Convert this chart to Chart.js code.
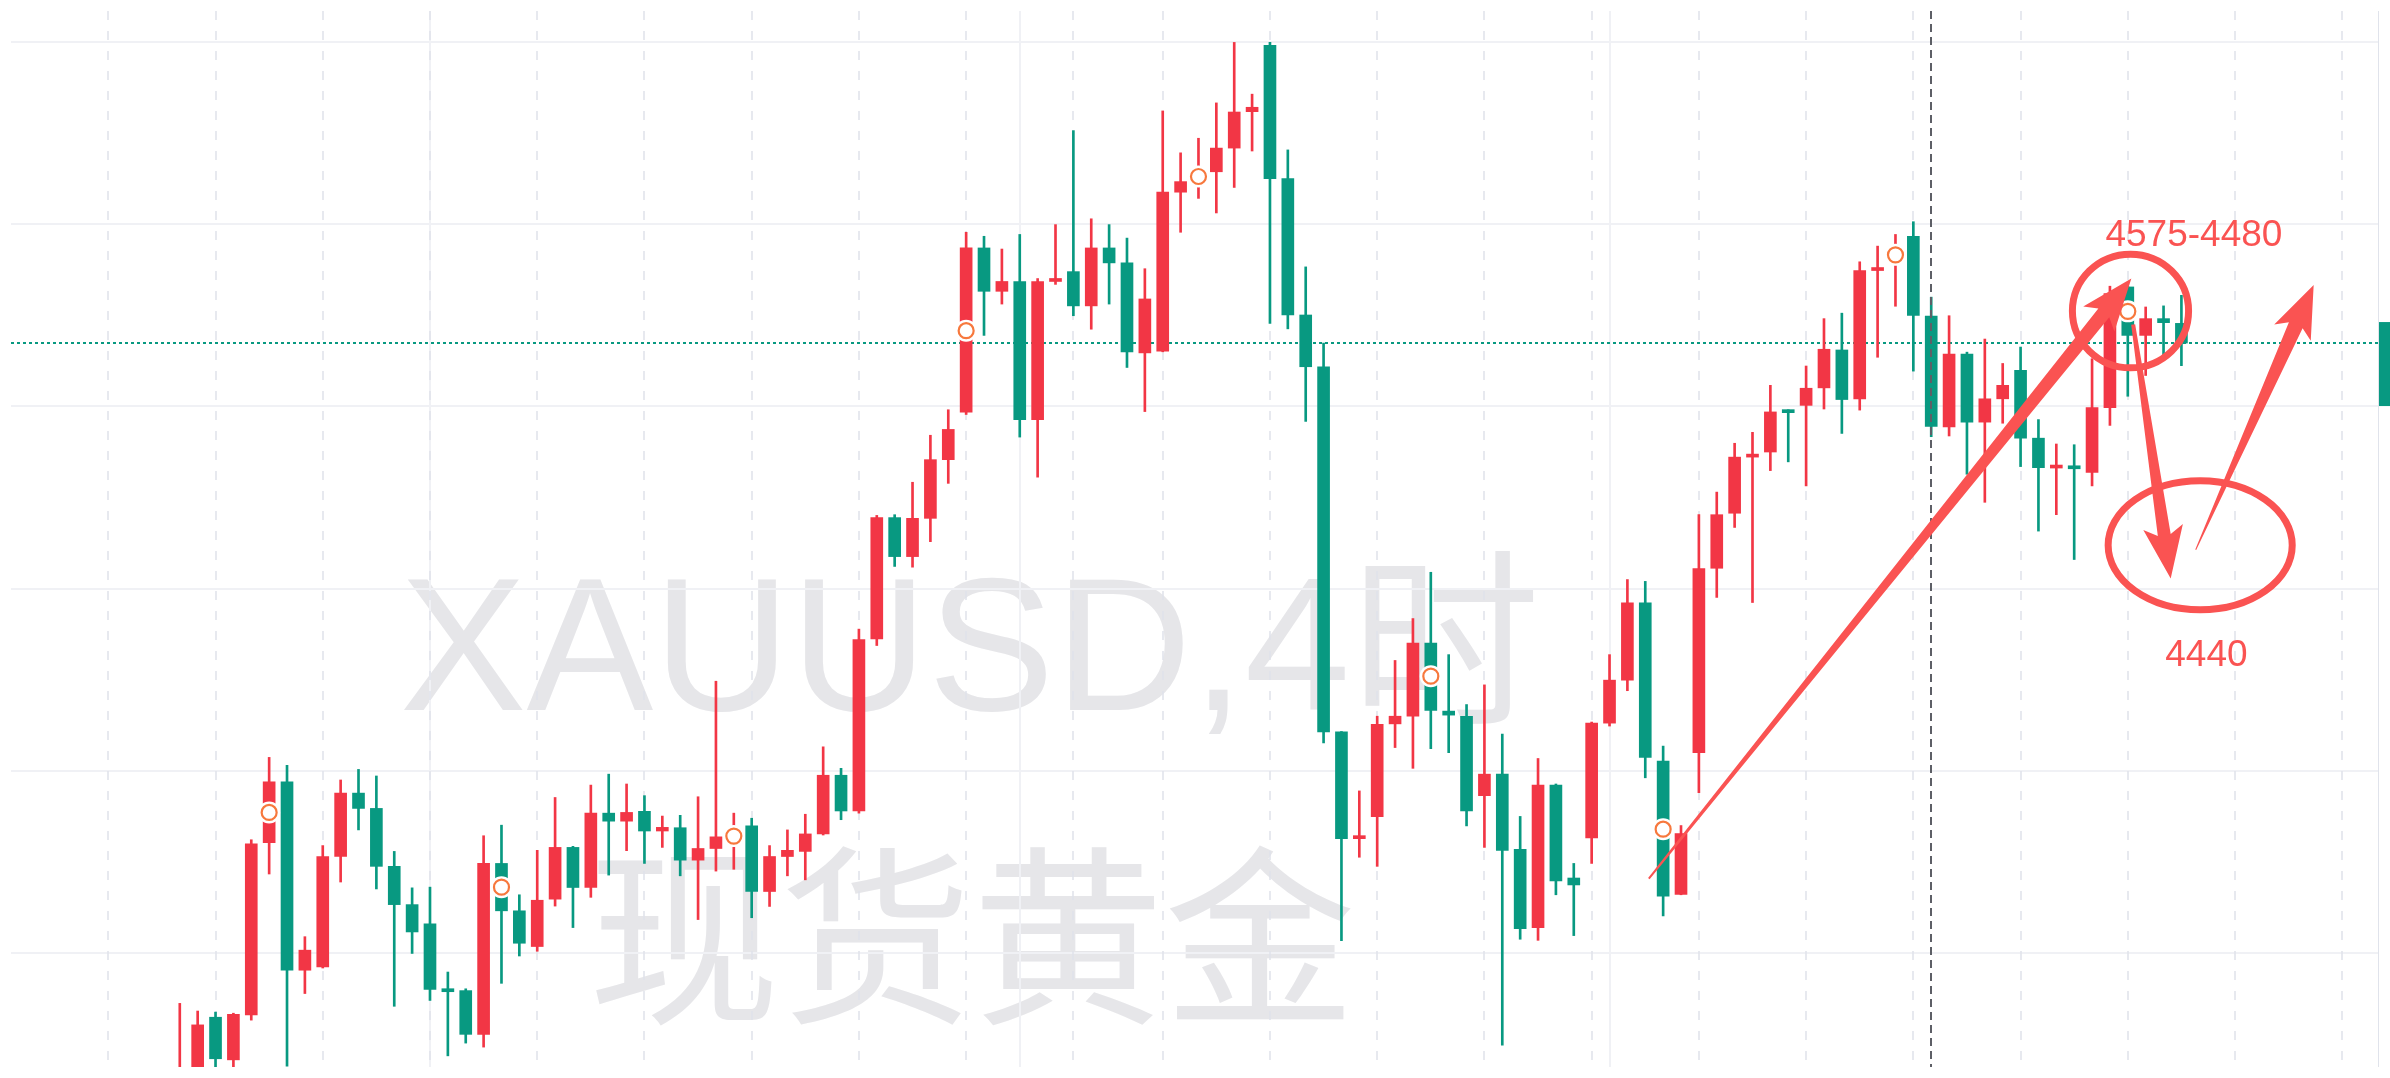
<!DOCTYPE html>
<html>
<head>
<meta charset="utf-8">
<title>XAUUSD 4时</title>
<script src="https://cdn.jsdelivr.net/npm/chart.js"></script>
<style>
    html, body { margin: 0; padding: 0; background: #fff; overflow: hidden; }
    #chart { display: block; }
</style>
</head>
<body>
<canvas id="chart" width="2390" height="1078" style="width:2390px;height:1078px"></canvas>
<script>
// XAUUSD 4h candles (price in USD)
const candleOpen = [
    4262, 4265, 4282.4, 4270.7, 4283.0, 4330.3, 4347.0, 4295.3, 4296.2, 4326.5,
    4343.9, 4339.7, 4323.8, 4313.3, 4308.0, 4290.0, 4289.7, 4277.7, 4324.6, 4311.6,
    4301.8, 4314.8, 4329.0, 4318.0, 4338.4, 4336.2, 4338.9, 4333.5, 4334.4, 4325.5,
    4328.7, 4330.8, 4334.9, 4316.9, 4326.5, 4327.9, 4332.7, 4348.8, 4339.0, 4386.2,
    4419.5, 4408.8, 4419.3, 4435.4, 4448.4, 4493.5, 4481.6, 4484.3, 4446.4, 4484.3,
    4487.0, 4477.6, 4493.5, 4489.4, 4464.7, 4465.2, 4508.8, 4511.5, 4514.4, 4520.9,
    4530.9, 4549.1, 4512.5, 4475.1, 4460.9, 4360.7, 4331.4, 4337.4, 4362.9, 4365.0,
    4385.1, 4366.4, 4365.0, 4343.2, 4349.1, 4328.5, 4307.0, 4346.1, 4320.6, 4331.6,
    4363.1, 4374.9, 4396.1, 4352.7, 4316.1, 4355.0, 4405.6, 4420.7, 4436.1, 4437.5,
    4448.7, 4450.3, 4455.1, 4465.5, 4452.1, 4487.3, 4490.3, 4496.7, 4474.8, 4444.4,
    4464.4, 4445.7, 4452.1, 4459.9, 4441.3, 4433.1, 4433.1, 4431.9, 4449.7, 4482.8,
    4469.5, 4474.1, 4472.8
];
const candleHigh = [
    4286.2, 4284.1, 4283.8, 4283.5, 4331.1, 4353.7, 4351.5, 4304.5, 4329.5, 4347.5,
    4350.4, 4348.6, 4327.9, 4317.9, 4318.1, 4294.8, 4290.2, 4332.2, 4335.1, 4316.0,
    4328.2, 4342.7, 4329.3, 4346.1, 4349.1, 4346.4, 4343.2, 4337.6, 4337.8, 4342.9,
    4374.6, 4338.4, 4337.0, 4329.5, 4333.8, 4338.1, 4356.6, 4350.7, 4388.9, 4420.1,
    4420.3, 4429.2, 4442.1, 4449.1, 4497.8, 4496.7, 4493.2, 4497.2, 4485.1, 4499.9,
    4525.7, 4501.5, 4499.9, 4496.2, 4487.8, 4531.1, 4519.6, 4523.6, 4533.3, 4549.9,
    4535.7, 4549.9, 4520.4, 4488.3, 4467.4, 4360.8, 4344.5, 4365.0, 4380.3, 4391.8,
    4404.5, 4381.9, 4368.2, 4373.6, 4360.1, 4337.5, 4353.4, 4346.4, 4324.6, 4363.4,
    4381.9, 4402.5, 4402.0, 4356.8, 4335.0, 4420.3, 4426.5, 4439.9, 4442.9, 4455.8,
    4449.1, 4461.1, 4474.1, 4475.6, 4489.7, 4494.0, 4497.2, 4500.7, 4480.0, 4474.9,
    4464.9, 4468.5, 4461.8, 4466.3, 4446.4, 4439.7, 4439.5, 4463.1, 4483.0, 4483.0,
    4477.3, 4477.6, 4480.5
];
const candleLow = [
    4258, 4262, 4266, 4266, 4281.6, 4321.7, 4269.0, 4288.9, 4295.9, 4319.5,
    4333.8, 4317.6, 4285.4, 4299.9, 4287.0, 4271.8, 4275.3, 4274.2, 4291.7, 4299.2,
    4300.5, 4312.9, 4307.0, 4315.3, 4321.4, 4328.1, 4324.6, 4329.0, 4321.2, 4309.2,
    4322.5, 4323.0, 4309.7, 4312.8, 4321.2, 4320.1, 4332.4, 4336.6, 4338.4, 4384.4,
    4406.1, 4405.9, 4412.9, 4428.9, 4447.8, 4469.5, 4478.1, 4441.6, 4430.6, 4483.5,
    4474.9, 4471.2, 4478.1, 4460.7, 4448.6, 4465.0, 4497.8, 4507.1, 4503.1, 4510.1,
    4520.1, 4472.8, 4471.3, 4445.9, 4357.7, 4303.4, 4326.3, 4323.8, 4356.4, 4350.7,
    4356.1, 4355.0, 4334.9, 4329.0, 4274.7, 4303.8, 4303.5, 4316.0, 4304.8, 4324.6,
    4362.3, 4372.0, 4348.1, 4310.2, 4316.0, 4344.0, 4397.6, 4416.8, 4396.2, 4432.4,
    4434.8, 4428.2, 4449.3, 4442.6, 4449.0, 4463.5, 4477.5, 4459.7, 4441.7, 4441.9,
    4431.4, 4423.7, 4445.4, 4433.5, 4415.8, 4420.3, 4408.0, 4428.2, 4444.8, 4452.8,
    4458.5, 4464.2, 4461.2
];
const candleClose = [
    4266, 4280.3, 4271.0, 4283.2, 4330.0, 4347.0, 4295.3, 4300.8, 4326.5, 4343.9,
    4339.7, 4323.8, 4313.3, 4305.8, 4290.0, 4289.4, 4277.7, 4324.6, 4311.6, 4302.7,
    4314.5, 4329.0, 4318.0, 4338.4, 4336.2, 4338.6, 4333.5, 4334.5, 4325.5, 4328.7,
    4331.9, 4333.5, 4316.9, 4326.5, 4328.2, 4332.7, 4348.8, 4339.0, 4386.0, 4419.5,
    4408.8, 4419.3, 4435.4, 4443.7, 4493.5, 4481.6, 4484.3, 4446.4, 4484.3, 4484.9,
    4477.6, 4493.5, 4489.4, 4465.0, 4479.5, 4508.8, 4511.7, 4515.0, 4520.9, 4530.8,
    4532.1, 4512.5, 4475.1, 4460.9, 4360.7, 4331.4, 4331.7, 4362.8, 4365.0, 4385.1,
    4366.6, 4365.3, 4339.0, 4349.1, 4328.2, 4306.7, 4346.1, 4319.8, 4318.7, 4363.1,
    4374.9, 4396.1, 4353.7, 4315.6, 4332.8, 4405.5, 4420.3, 4436.1, 4436.5, 4448.5,
    4448.3, 4455.0, 4465.7, 4451.9, 4487.3, 4488.0, 4493.0, 4475.0, 4444.5, 4464.4,
    4445.7, 4452.1, 4455.8, 4441.3, 4433.2, 4433.4, 4432.9, 4449.7, 4481.0, 4469.5,
    4474.1, 4473.0, 4467.4
];

// orange signal rings (candle index, price)
const markerIndex = [5, 18, 31, 44, 57, 70, 83, 96, 109];
const markerPrice = [4338.6, 4318.1, 4332.1, 4470.8, 4513.1, 4376.0, 4334.0, 4491.6, 4476.1];

// grid
const priceGrid = [4300, 4350, 4400, 4450, 4500, 4550];
const timeGrid = [-4, 2, 8, 14, 20, 26, 32, 38, 44, 50, 55, 61, 67, 73, 79, 85, 91, 97, 103, 109, 115, 121];
const weekLines = [14, 47, 80];
const crosshairIndex = 98;
const lastPrice = 4467.4;

// hand-drawn annotation, in (candle index, price)
const bigArrow = [[82.2, 4320.4], [109.2, 4485.1]];
const downArrow = [[109.3, 4472.5], [111.4, 4402.8]];
const upArrow = [[112.8, 4410.7], [119.4, 4483.3]];
const topRing = [105.9, 112.4, 4460.6, 4491.8];
const bottomRing = [107.9, 118.2, 4394.2, 4429.6];
const labelTop = { text: "4575-4480", at: [112.7, 4494.0] };
const labelBottom = { text: "4440", at: [113.4, 4378.9] };

const UP = "#f23645";
const DOWN = "#089981";
const MARK = "#fa5352";

const idx = candleOpen.map((_, i) => i);
const colors = idx.map((i) => (candleClose[i] >= candleOpen[i] ? UP : DOWN));

const drawArrow = (ctx, x, y, pts, w0, w1, headLen, headHalf) => {
    const fx = x.getPixelForValue(pts[0][0]);
    const fy = y.getPixelForValue(pts[0][1]);
    const tx = x.getPixelForValue(pts[1][0]);
    const ty = y.getPixelForValue(pts[1][1]);
    const len = Math.hypot(tx - fx, ty - fy);
    const ux = (tx - fx) / len;
    const uy = (ty - fy) / len;
    const nx = -uy;
    const ny = ux;
    const bx = tx - ux * headLen;
    const by = ty - uy * headLen;
    const jx = bx + ux * 8;
    const jy = by + uy * 8;
    ctx.beginPath();
    ctx.moveTo(fx + (nx * w0) / 2, fy + (ny * w0) / 2);
    ctx.lineTo(jx + (nx * w1) / 2, jy + (ny * w1) / 2);
    ctx.lineTo(bx + nx * headHalf, by + ny * headHalf);
    ctx.lineTo(tx, ty);
    ctx.lineTo(bx - nx * headHalf, by - ny * headHalf);
    ctx.lineTo(jx - (nx * w1) / 2, jy - (ny * w1) / 2);
    ctx.lineTo(fx - (nx * w0) / 2, fy - (ny * w0) / 2);
    ctx.closePath();
    ctx.fill();
};

const drawRing = (ctx, x, y, box) => {
    const x1 = x.getPixelForValue(box[0]);
    const x2 = x.getPixelForValue(box[1]);
    const y1 = y.getPixelForValue(box[3]);
    const y2 = y.getPixelForValue(box[2]);
    ctx.beginPath();
    ctx.ellipse((x1 + x2) / 2, (y1 + y2) / 2, (x2 - x1) / 2, (y2 - y1) / 2, 0, 0, Math.PI * 2);
    ctx.stroke();
};

const background = {
    id: "background",
    beforeDatasetsDraw(chart) {
        const { ctx, chartArea: a, scales } = chart;
        const x = scales.x;
        const y = scales.y;
        ctx.save();

        // watermark
        ctx.fillStyle = "#e6e6e9";
        ctx.textAlign = "center";
        ctx.textBaseline = "alphabetic";
        ctx.font = '190px "Liberation Sans", "Noto Sans CJK SC", sans-serif';
        ctx.fillText("XAUUSD,4时", 970, 710);
        ctx.font = '192px "Noto Sans CJK SC", sans-serif';
        ctx.fillText("现货黄金", 972, 1009);

        // horizontal grid
        ctx.strokeStyle = "#f0f1f5";
        ctx.lineWidth = 2;
        priceGrid.forEach((p) => {
            const py = Math.round(y.getPixelForValue(p));
            ctx.beginPath();
            ctx.moveTo(a.left, py);
            ctx.lineTo(a.right, py);
            ctx.stroke();
        });
        weekLines.forEach((v) => {
            const px = Math.round(x.getPixelForValue(v));
            ctx.beginPath();
            ctx.moveTo(px, a.top);
            ctx.lineTo(px, a.bottom);
            ctx.stroke();
        });

        // vertical dashed grid
        ctx.strokeStyle = "#dfe2ea";
        ctx.lineWidth = 1.5;
        ctx.setLineDash([9, 11]);
        timeGrid.forEach((v) => {
            const px = Math.round(x.getPixelForValue(v));
            ctx.beginPath();
            ctx.moveTo(px, a.top);
            ctx.lineTo(px, a.bottom);
            ctx.stroke();
        });

        // last price
        ctx.strokeStyle = DOWN;
        ctx.lineWidth = 2;
        ctx.setLineDash([3, 3]);
        const lp = Math.round(y.getPixelForValue(lastPrice));
        ctx.beginPath();
        ctx.moveTo(a.left, lp);
        ctx.lineTo(a.right, lp);
        ctx.stroke();
        ctx.restore();
    },
    afterDatasetsDraw(chart) {
        const { ctx, chartArea: a, scales, width } = chart;
        const x = scales.x;
        const y = scales.y;
        ctx.save();

        // crosshair
        ctx.strokeStyle = "#5d5f66";
        ctx.lineWidth = 2;
        ctx.setLineDash([8, 5]);
        const cx = Math.round(x.getPixelForValue(crosshairIndex));
        ctx.beginPath();
        ctx.moveTo(cx, a.top);
        ctx.lineTo(cx, a.bottom);
        ctx.stroke();
        ctx.setLineDash([]);

        // price scale edge and last price tag
        ctx.strokeStyle = "#e0e3eb";
        ctx.lineWidth = 1;
        ctx.beginPath();
        ctx.moveTo(a.right - 0.5, a.top);
        ctx.lineTo(a.right - 0.5, a.bottom);
        ctx.stroke();
        const lp = y.getPixelForValue(lastPrice);
        ctx.fillStyle = DOWN;
        ctx.fillRect(a.right, lp - 21, width - a.right, 84);

        // annotation
        ctx.fillStyle = MARK;
        ctx.strokeStyle = MARK;
        ctx.lineWidth = 7;
        drawRing(ctx, x, y, topRing);
        drawRing(ctx, x, y, bottomRing);
        drawArrow(ctx, x, y, bigArrow, 2, 14, 52, 20);
        drawArrow(ctx, x, y, downArrow, 4, 13, 52, 20);
        drawArrow(ctx, x, y, upArrow, 1, 15, 52, 20);

        ctx.font = '37px "Liberation Sans", sans-serif';
        ctx.textAlign = "center";
        ctx.textBaseline = "alphabetic";
        [labelTop, labelBottom].forEach((l) => {
            ctx.fillText(l.text, x.getPixelForValue(l.at[0]), y.getPixelForValue(l.at[1]));
        });
        ctx.restore();
    },
};

new Chart(document.getElementById("chart"), {
    type: "bar",
    data: {
        datasets: [
            {
                type: "scatter",
                label: "signal",
                data: markerIndex.map((v, k) => ({ x: v, y: markerPrice[k] })),
                pointRadius: 7.5,
                pointBackgroundColor: "#ffffff",
                pointBorderColor: "#f7783d",
                pointBorderWidth: 2.2,
                order: 1,
            },
            {
                type: "scatter",
                label: "signal halo",
                data: markerIndex.map((v, k) => ({ x: v, y: markerPrice[k] })),
                pointRadius: 11,
                pointBackgroundColor: "#ffffff",
                pointBorderWidth: 0,
                order: 2,
            },
            {
                label: "body",
                data: idx.map((i) => ({ x: i, y: [candleOpen[i], candleClose[i]] })),
                backgroundColor: colors,
                barThickness: 12,
                minBarLength: 3,
                borderWidth: 0,
                order: 3,
            },
            {
                label: "wick",
                data: idx.map((i) => ({ x: i, y: [candleLow[i], candleHigh[i]] })),
                backgroundColor: colors,
                barThickness: 2,
                borderWidth: 0,
                order: 4,
            },
        ],
    },
    options: {
        responsive: false,
        devicePixelRatio: 1,
        animation: false,
        layout: { padding: { left: 0, right: 5, top: 0, bottom: 0 } },
        datasets: { bar: { grouped: false } },
        scales: {
            x: { type: "linear", display: false, offset: false, bounds: "data", min: -170 / 18, max: 2215 / 18 },
            y: { display: false, min: 4268.74, max: 4558.52 },
        },
        plugins: {
            legend: { display: false },
            tooltip: { enabled: false },
        },
    },
    plugins: [background],
});
</script>
</body>
</html>
